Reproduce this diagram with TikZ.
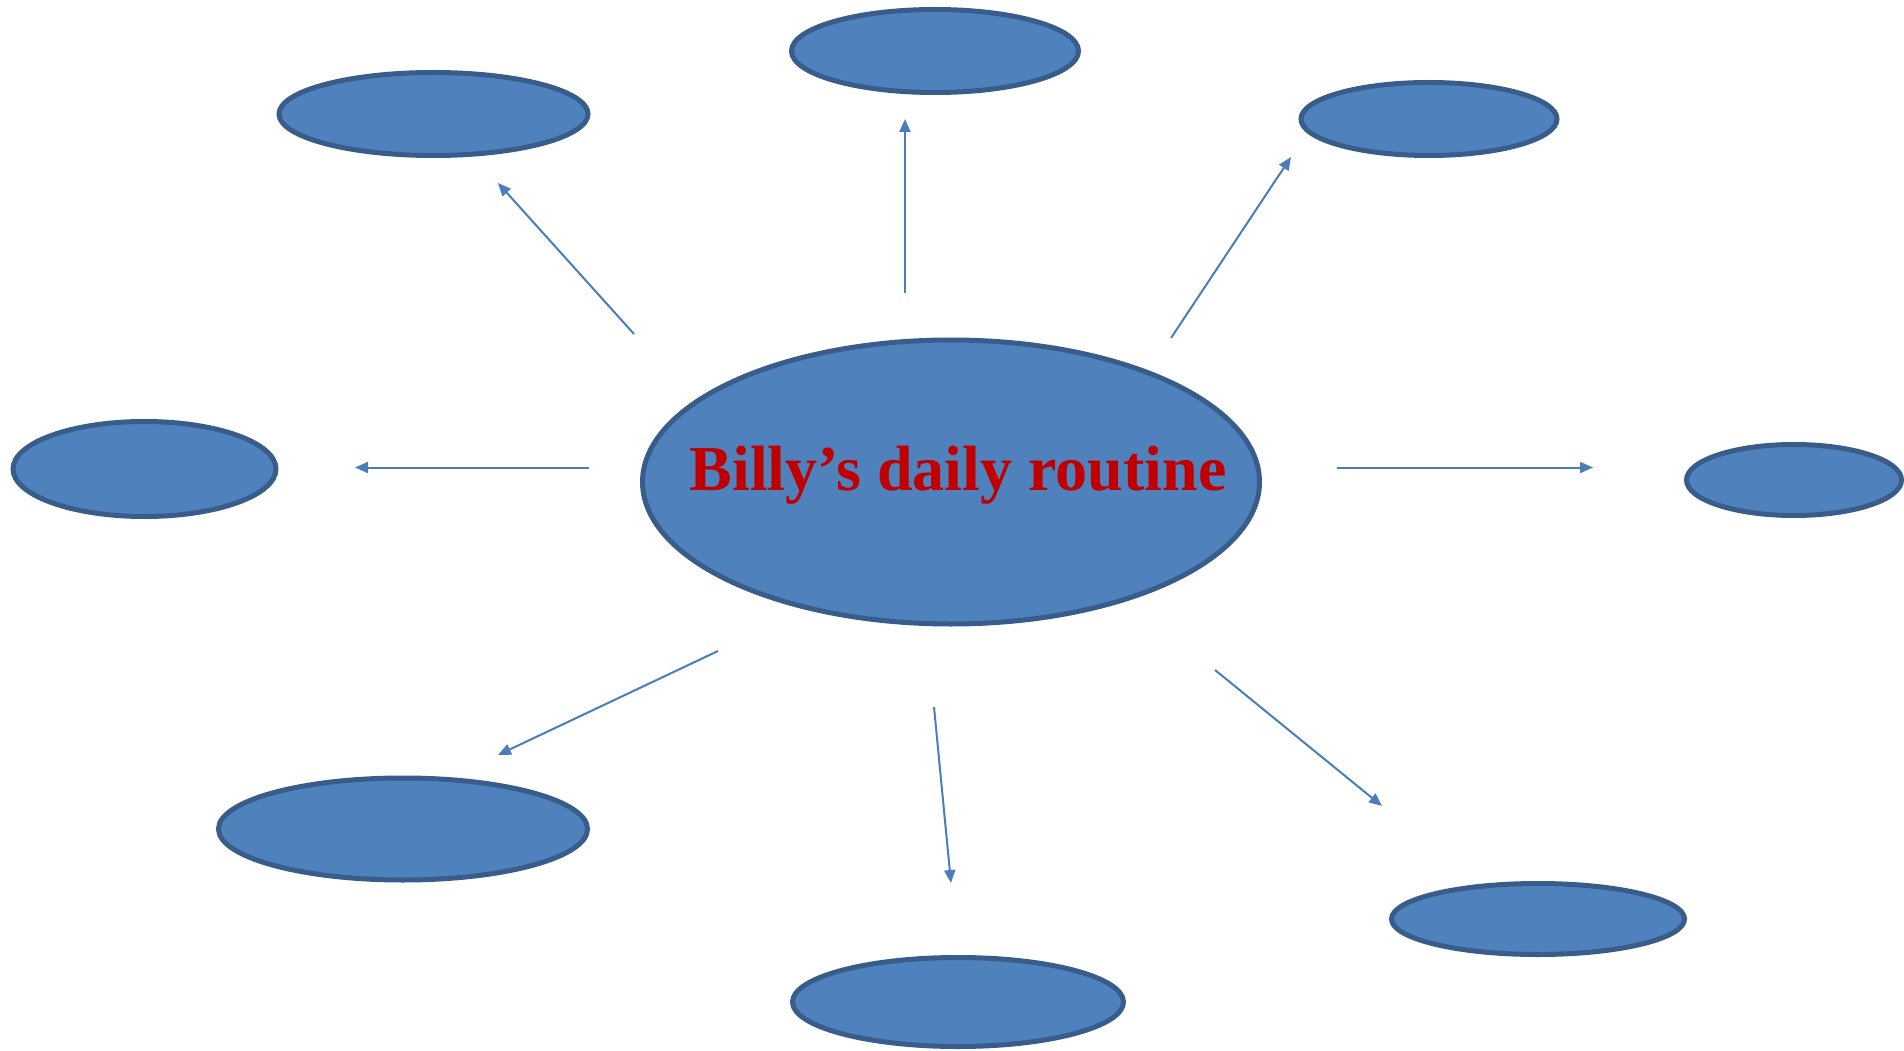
\documentclass[tikz,border=0pt]{standalone}
\usepackage{fontspec}
\setmainfont{Liberation Serif}
\usetikzlibrary{shapes.geometric,arrows.meta}
\definecolor{bubblefill}{HTML}{4F81BD}
\definecolor{bubbleline}{HTML}{385D8A}
\definecolor{arrowcol}{HTML}{4A7EBB}
\definecolor{titlered}{HTML}{C00000}
\tikzset{
  bubble/.style n args={2}{ellipse, draw=bubbleline, fill=bubblefill, line width=5pt,
    inner sep=0pt, outer sep=0pt, minimum width=#1, minimum height=#2},
  spoke/.style={draw=arrowcol, line width=2pt, -{Triangle[length=13pt,width=11pt]}}
}
\begin{document}
\begin{tikzpicture}[x=1pt,y=-1pt]
\useasboundingbox (0,0) rectangle (1904,1051);
% bubbles (outer size minus line width)
\node[bubble={617pt}{284pt}] (c)  at (951,482) {};
\node[bubble={287pt}{83pt}]  (t)  at (935,51) {};
\node[bubble={309pt}{83pt}]  (tl) at (433.5,114) {};
\node[bubble={256pt}{73pt}]  (tr) at (1429,119) {};
\node[bubble={263pt}{95pt}]  (l)  at (144.5,469) {};
\node[bubble={215pt}{71pt}]  (r)  at (1794,480) {};
\node[bubble={369pt}{102pt}] (bl) at (403,829) {};
\node[bubble={331pt}{89pt}]  (b)  at (958,1002) {};
\node[bubble={293pt}{71pt}]  (br) at (1538,919) {};
\node[anchor=base, text=titlered, font=\fontsize{64}{70}\selectfont\bfseries, inner sep=0pt] (title) at (958,490) {Billy’s daily routine};
% spoke ends
\coordinate (s1) at (905,293);  \coordinate (e1) at (905,119);
\coordinate (s2) at (634,334);  \coordinate (e2) at (498,183);
\coordinate (s3) at (1171,338); \coordinate (e3) at (1291,157);
\coordinate (s4) at (589,467.5); \coordinate (e4) at (355,467.5);
\coordinate (s5) at (1337,467.5); \coordinate (e5) at (1593,467.5);
\coordinate (s6) at (718,651);  \coordinate (e6) at (498,755);
\coordinate (s7) at (934,707);  \coordinate (e7) at (951,883);
\coordinate (s8) at (1215,670); \coordinate (e8) at (1382,806);
\foreach \i in {1,...,8} { \draw[spoke] (s\i) -- (e\i); }
\end{tikzpicture}
\end{document}
